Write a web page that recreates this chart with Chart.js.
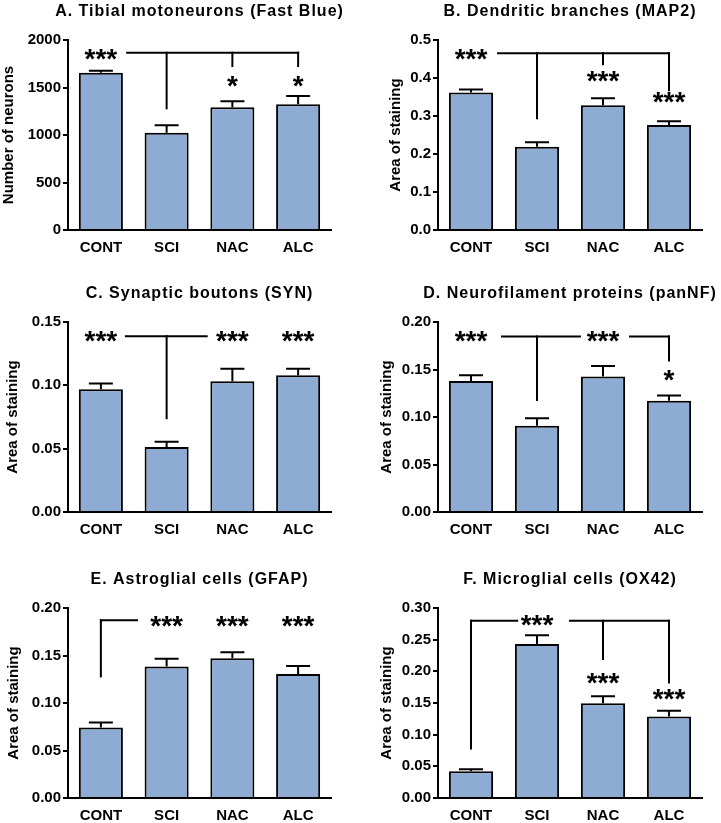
<!DOCTYPE html>
<html>
<head>
<meta charset="utf-8">
<script src="https://cdn.jsdelivr.net/npm/chart.js"></script>
<style>
  body { margin: 0; background: #fff; width: 721px; height: 823px; position: relative; overflow: hidden; }
  canvas { position: absolute; }
</style>
</head>
<body>
<canvas id="chartA" width="360" height="255" style="left:0;top:0"></canvas>
<canvas id="chartB" width="361" height="255" style="left:360px;top:0"></canvas>
<canvas id="chartC" width="360" height="255" style="left:0;top:282px"></canvas>
<canvas id="chartD" width="361" height="255" style="left:360px;top:282px"></canvas>
<canvas id="chartE" width="360" height="255" style="left:0;top:568px"></canvas>
<canvas id="chartF" width="361" height="255" style="left:360px;top:568px"></canvas>
<script>
const groups = ["CONT", "SCI", "NAC", "ALC"];

// mean and SEM per group
const meanA = [1656, 1024, 1291, 1323];
const semA = [21, 78, 63, 87];
const ticksA = ["0", "500", "1000", "1500", "2000"];

const meanB = [0.362, 0.219, 0.328, 0.276];
const semB = [0.008, 0.012, 0.019, 0.010];
const ticksB = ["0.0", "0.1", "0.2", "0.3", "0.4", "0.5"];

const meanC = [0.097, 0.0514, 0.1033, 0.108];
const semC = [0.0045, 0.004, 0.0097, 0.005];
const ticksC = ["0.00", "0.05", "0.10", "0.15"];

const meanD = [0.138, 0.0908, 0.1427, 0.117];
const semD = [0.006, 0.008, 0.011, 0.0057];
const ticksD = ["0.00", "0.05", "0.10", "0.15", "0.20"];

const meanE = [0.0743, 0.1385, 0.147, 0.1305];
const semE = [0.0053, 0.008, 0.0063, 0.0085];
const ticksE = ["0.00", "0.05", "0.10", "0.15", "0.20"];

const meanF = [0.0422, 0.2433, 0.1497, 0.1286];
const semF = [0.0032, 0.0137, 0.011, 0.009];
const ticksF = ["0.00", "0.05", "0.10", "0.15", "0.20", "0.25", "0.30"];

// significance brackets: [x1 (group index), y1, x2, y2]
const linesA = [[0.4, 1866, 3, 1866], [1, 1866, 1, 1281], [2, 1866, 2, 1726], [3, 1866, 3, 1726]];
const linesB = [[0.41, 0.465, 3, 0.465], [1, 0.465, 1, 0.294], [2, 0.465, 2, 0.436], [3, 0.465, 3, 0.368]];
const linesC = [[0.38, 0.1388, 1.61, 0.1388], [1, 0.1388, 1, 0.074]];
const linesD = [[0.47, 0.1848, 1.65, 0.1848], [2.41, 0.1848, 3, 0.1848], [1, 0.1848, 1, 0.118], [3, 0.1848, 3, 0.1596]];
const linesE = [[0, 0.187, 0.55, 0.187], [0, 0.187, 0, 0.128]];
const linesF = [[0, 0.28, 0.7, 0.28], [1.5, 0.28, 3, 0.28], [0, 0.28, 0, 0.078], [2, 0.28, 2, 0.2195], [3, 0.28, 3, 0.1825]];

// asterisks: [text, group index, y]
const starsA = [["***", 0, 1847], ["*", 2, 1558], ["*", 3, 1558]];
const starsB = [["***", 0, 0.461], ["***", 2, 0.405], ["***", 3, 0.348]];
const starsC = [["***", 0, 0.1387], ["***", 2, 0.1387], ["***", 3, 0.1387]];
const starsD = [["***", 0, 0.1848], ["***", 2, 0.1848], ["*", 3, 0.1435]];
const starsE = [["***", 1, 0.186], ["***", 2, 0.186], ["***", 3, 0.186]];
const starsF = [["***", 1, 0.2798], ["***", 2, 0.1886], ["***", 3, 0.164]];

const FONT = "'Liberation Sans', Arial, Helvetica, sans-serif";
const BAR_COLOR = "#8eabd4";

const panels = [
  { id: "chartA", title: "A. Tibial motoneurons (Fast Blue)", yTitle: "Number of neurons",
    mean: meanA, sem: semA, ticks: ticksA, lines: linesA, stars: starsA, side: "left", titlePad: 0 },
  { id: "chartB", title: "B. Dendritic branches (MAP2)", yTitle: "Area of staining",
    mean: meanB, sem: semB, ticks: ticksB, lines: linesB, stars: starsB, side: "right", titlePad: 27 },
  { id: "chartC", title: "C. Synaptic boutons (SYN)", yTitle: "Area of staining",
    mean: meanC, sem: semC, ticks: ticksC, lines: linesC, stars: starsC, side: "left", titlePad: 4 },
  { id: "chartD", title: "D. Neurofilament proteins (panNF)", yTitle: "Area of staining",
    mean: meanD, sem: semD, ticks: ticksD, lines: linesD, stars: starsD, side: "right", titlePad: 18 },
  { id: "chartE", title: "E. Astroglial cells (GFAP)", yTitle: "Area of staining",
    mean: meanE, sem: semE, ticks: ticksE, lines: linesE, stars: starsE, side: "left", titlePad: 5 },
  { id: "chartF", title: "F. Microglial cells (OX42)", yTitle: "Area of staining",
    mean: meanF, sem: semF, ticks: ticksF, lines: linesF, stars: starsF, side: "right", titlePad: 18 },
];

// error bars (upper only), brackets, asterisks and panel title
const extrasPlugin = {
  id: "extras",
  afterDatasetsDraw(chart, args, opts) {
    const ctx = chart.ctx;
    const y = chart.scales.y;
    const meta = chart.getDatasetMeta(0);
    ctx.save();
    ctx.strokeStyle = "#000";
    ctx.lineWidth = 2;
    meta.data.forEach((bar, i) => {
      const top = y.getPixelForValue(opts.mean[i] + opts.sem[i]);
      ctx.beginPath();
      ctx.moveTo(bar.x, bar.y);
      ctx.lineTo(bar.x, top);
      ctx.moveTo(bar.x - 12, top);
      ctx.lineTo(bar.x + 12, top);
      ctx.stroke();
    });
    ctx.restore();
  },
  afterDraw(chart, args, opts) {
    const ctx = chart.ctx;
    const xs = chart.scales.x;
    const ys = chart.scales.y;
    const area = chart.chartArea;
    ctx.save();
    ctx.strokeStyle = "#000";
    ctx.lineWidth = 2;
    ctx.lineCap = "square";
    opts.lines.forEach(([x1, y1, x2, y2]) => {
      ctx.beginPath();
      ctx.moveTo(xs.getPixelForValue(x1), ys.getPixelForValue(y1));
      ctx.lineTo(xs.getPixelForValue(x2), ys.getPixelForValue(y2));
      ctx.stroke();
    });

    ctx.fillStyle = "#000";
    ctx.textAlign = "center";
    ctx.textBaseline = "alphabetic";
    ctx.font = "bold 28px " + FONT;
    opts.stars.forEach(([text, xi, yv]) => {
      const m = ctx.measureText(text);
      const py = ys.getPixelForValue(yv) + (m.actualBoundingBoxAscent - m.actualBoundingBoxDescent) / 2;
      ctx.fillText(text, xs.getPixelForValue(xi), py);
    });

    ctx.font = "bold 16px " + FONT;
    ctx.textBaseline = "middle";
    ctx.letterSpacing = "1px";
    ctx.fillText(opts.title, (area.left + area.right) / 2, 12);
    ctx.restore();
  },
};

function makeChart(p) {
  const yWidth = p.side === "left" ? 68 : 78;
  const padRight = p.side === "left" ? 29 : 19;
  const canvas = document.getElementById(p.id);

  return new Chart(canvas.getContext("2d"), {
    type: "bar",
    data: {
      labels: groups,
      datasets: [
        {
          data: p.mean,
          backgroundColor: BAR_COLOR,
          borderColor: "#000",
          borderWidth: 2,
          barPercentage: 0.67,
          categoryPercentage: 1,
        },
      ],
    },
    options: {
      responsive: false,
      animation: false,
      layout: { padding: { left: 0, right: padRight, top: 40, bottom: 0 } },
      plugins: {
        legend: { display: false },
        tooltip: { enabled: false },
        extras: { mean: p.mean, sem: p.sem, lines: p.lines, stars: p.stars, title: p.title },
      },
      scales: {
        x: {
          grid: { display: false, drawTicks: false },
          border: { display: true, color: "#000", width: 2 },
          ticks: { color: "#000", font: { family: FONT, size: 15, weight: "bold" }, padding: 9 },
          afterFit(scale) {
            scale.height = 25;
          },
        },
        y: {
          min: 0,
          max: parseFloat(p.ticks[p.ticks.length - 1]),
          afterBuildTicks(scale) {
            scale.ticks = p.ticks.map((t) => ({ value: parseFloat(t) }));
          },
          afterFit(scale) {
            scale.width = yWidth;
          },
          grid: { drawOnChartArea: false, drawTicks: true, tickLength: 5, color: "#000", lineWidth: 2 },
          border: { display: true, color: "#000", width: 2 },
          ticks: {
            color: "#000",
            font: { family: FONT, size: 15, weight: "bold" },
            padding: 2,
            callback: (value, index) => p.ticks[index],
          },
          title: {
            display: true,
            text: p.yTitle,
            color: "#000",
            font: { family: FONT, size: 15, weight: "bold" },
            padding: { top: p.titlePad, bottom: 0 },
          },
        },
      },
    },
    plugins: [extrasPlugin],
  });
}

panels.forEach(makeChart);
</script>
</body>
</html>
